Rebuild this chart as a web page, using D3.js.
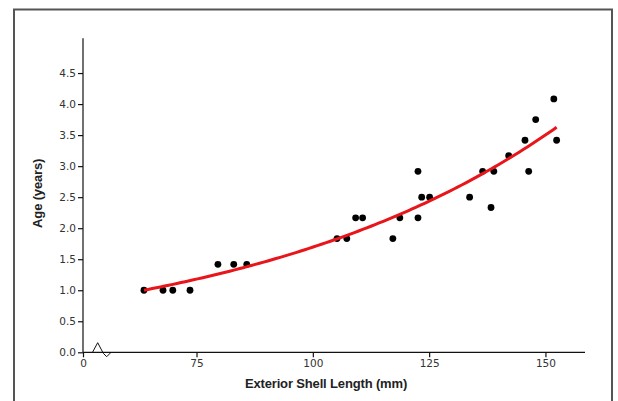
<!DOCTYPE html>
<html>
<head>
<meta charset="utf-8">
<script src="https://cdn.jsdelivr.net/npm/d3@7"></script>
<style>
  html, body { margin: 0; padding: 0; background: #fff; }
  svg { display: block; }
  .tick text { font-family: "DejaVu Sans", sans-serif; font-size: 10.5px; fill: #333; }
  .axis-title { font-family: "Liberation Sans", Arial, sans-serif; font-weight: bold; font-size: 13px; fill: #222; letter-spacing: -0.15px; }
</style>
</head>
<body>
<svg id="chart" width="618" height="401"></svg>
<script>
// Shell length (mm) and age (years) for each measured specimen
const shellLength = [63.7, 67.8, 69.9, 73.6, 79.6, 83.0, 85.8, 105.2, 107.3, 109.2, 110.7,
  117.2, 118.7, 122.6, 122.6, 123.4, 125.1, 133.7, 136.5, 138.3, 138.9, 142.1, 145.6,
  146.4, 147.9, 151.8, 152.4];
const ageYears = [1.0, 1.0, 1.0, 1.0, 1.417, 1.417, 1.417, 1.833, 1.833, 2.167, 2.167,
  1.833, 2.167, 2.917, 2.167, 2.5, 2.5, 2.5, 2.917, 2.333, 2.917, 3.167, 3.417,
  2.917, 3.75, 4.083, 3.417];

const xTickValues = [75, 100, 125, 150];
const xOriginLabel = "0";
const yTickValues = [0, 0.5, 1.0, 1.5, 2.0, 2.5, 3.0, 3.5, 4.0, 4.5];
const xTitle = "Exterior Shell Length (mm)";
const yTitle = "Age (years)";

const svg = d3.select("#chart");

// Outer frame
svg.append("rect")
  .attr("x", 14).attr("y", 9.5)
  .attr("width", 598).attr("height", 420)
  .attr("fill", "none").attr("stroke", "#555").attr("stroke-width", 2);

// Broken x axis: the left end stands for 0
const x = d3.scaleLinear().domain([50.6, 158.5]).range([83, 585]);
const y = d3.scaleLinear().domain([0, 5.06]).range([352.3, 38.3]);

const xAxis = d3.axisBottom(x)
  .tickValues([x.domain()[0], ...xTickValues])
  .tickSize(5).tickPadding(2)
  .tickFormat((d, i) => i === 0 ? xOriginLabel : d3.format("d")(d));
const gx = svg.append("g").attr("transform", `translate(0,${y(0)})`).call(xAxis);
gx.select(".domain").attr("d", `M${x.range()[0]},0H${x.range()[1]}`);

const yAxis = d3.axisLeft(y)
  .tickValues(yTickValues)
  .tickSize(5).tickPadding(2)
  .tickFormat(d3.format(".1f"));
const gy = svg.append("g").attr("transform", `translate(${x.range()[0]},0)`).call(yAxis);
gy.select(".domain").attr("d", `M0,${y.range()[1]}V${y.range()[0]}`);

svg.selectAll(".domain, .tick line").attr("stroke", "#111").attr("stroke-width", 1.2);

// Axis break marker next to the origin
const y0 = y(0);
svg.append("path")
  .attr("d", `M92.3,${y0 + 0.4} L97.7,${y0 - 9.6} L103.3,${y0 + 1} L106.7,${y0 + 4.4} L110.7,${y0 + 0.4}`)
  .attr("fill", "none").attr("stroke", "#111").attr("stroke-width", 1);

// Titles
svg.append("text").attr("class", "axis-title")
  .attr("x", 326).attr("y", 388)
  .attr("text-anchor", "middle").text(xTitle);
svg.append("text").attr("class", "axis-title")
  .attr("transform", `translate(42,${(y.range()[0] + y.range()[1]) / 2 - 2}) rotate(-90)`)
  .attr("text-anchor", "middle").text(yTitle);

// Exponential growth fit age = A*exp(B*length):
// start from the log-linear estimate, then refine with Gauss-Newton
const pts = shellLength.map((v, i) => [v, ageYears[i]]);
const mx = d3.mean(pts, p => p[0]);
const my = d3.mean(pts, p => Math.log(p[1]));
let B = d3.sum(pts, p => (p[0] - mx) * (Math.log(p[1]) - my)) / d3.sum(pts, p => (p[0] - mx) ** 2);
let A = Math.exp(my - B * mx);
for (let it = 0; it < 50; it++) {
  let jaa = 0, jab = 0, jbb = 0, ga = 0, gb = 0;
  for (const [xv, yv] of pts) {
    const e = Math.exp(B * xv);
    const r = yv - A * e;
    const da = e, db = A * xv * e;
    jaa += da * da; jab += da * db; jbb += db * db;
    ga += da * r; gb += db * r;
  }
  const det = jaa * jbb - jab * jab;
  A += (jbb * ga - jab * gb) / det;
  B += (jaa * gb - jab * ga) / det;
}
const [xmin, xmax] = d3.extent(shellLength);
const fit = d3.range(0, 101).map(k => {
  const xv = xmin + (xmax - xmin) * k / 100;
  return [xv, A * Math.exp(B * xv)];
});

// Points
svg.append("g").selectAll("circle").data(pts).join("circle")
  .attr("cx", d => x(d[0])).attr("cy", d => y(d[1]))
  .attr("r", 3.4).attr("fill", "#000");

svg.append("path").datum(fit)
  .attr("d", d3.line().x(d => x(d[0])).y(d => y(d[1])))
  .attr("fill", "none").attr("stroke", "#e8161b").attr("stroke-width", 3);
</script>
</body>
</html>
